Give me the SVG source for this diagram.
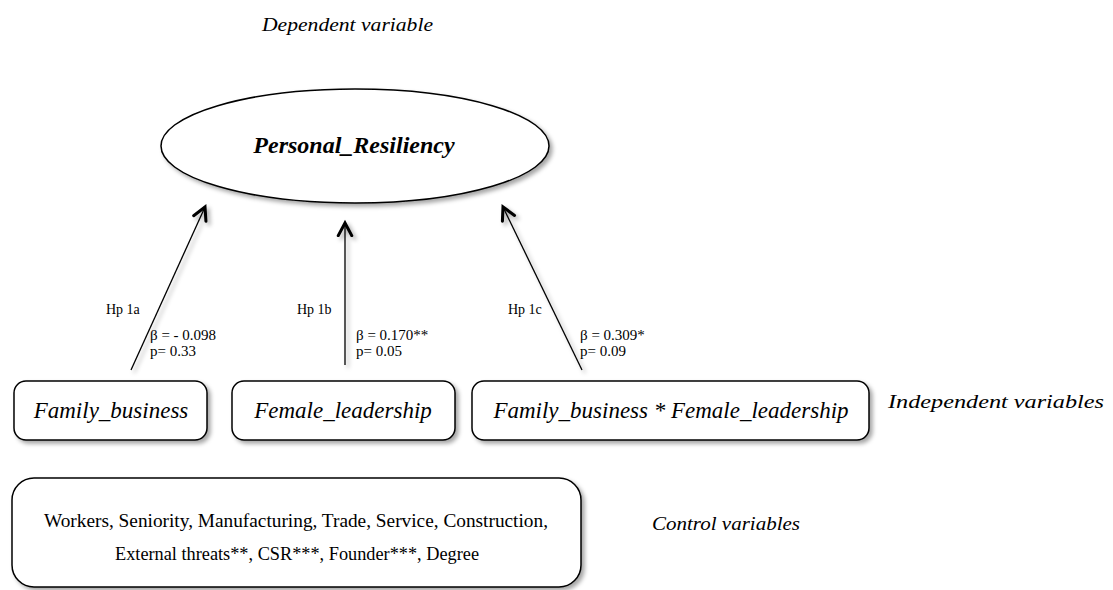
<svg xmlns="http://www.w3.org/2000/svg" width="1113" height="590" viewBox="0 0 1113 590">
<defs>
<filter id="sh" x="-10%" y="-10%" width="130%" height="140%">
<feDropShadow dx="3" dy="3" stdDeviation="2" flood-color="#000" flood-opacity="0.35"/>
</filter>
<marker id="chev" viewBox="0 0 20 20" refX="16" refY="10" markerWidth="18" markerHeight="18" markerUnits="userSpaceOnUse" orient="auto">
<path d="M2,2.5 L16,10 L2,17.5" fill="none" stroke="#000" stroke-width="3.4" stroke-linejoin="miter" stroke-linecap="round"/>
</marker>
</defs>
<style>
.node{fill:#fff;stroke:#000;stroke-width:1.5}
.it{font-family:"Liberation Serif","Times New Roman",serif;font-style:italic;fill:#000}
.rm{font-family:"Liberation Serif","Times New Roman",serif;fill:#000}
.edge{stroke:#000;stroke-width:1.3;fill:none}
</style>
<rect width="1113" height="590" fill="#fff"/>
<text class="it" x="262" y="31" font-size="18" textLength="171" lengthAdjust="spacingAndGlyphs">Dependent variable</text>
<g id="personal_resiliency">
<ellipse class="node" cx="355" cy="146" rx="194" ry="57" filter="url(#sh)"/>
<text class="it" x="354" y="153" font-size="24" font-weight="bold" text-anchor="middle">Personal_Resiliency</text>
</g>
<g id="family_business">
<rect class="node" x="14" y="381" width="193" height="59" rx="12" filter="url(#sh)"/>
<text class="it" x="111" y="418" font-size="23" text-anchor="middle">Family_business</text>
</g>
<g id="female_leadership">
<rect class="node" x="232" y="381" width="223" height="59" rx="12" filter="url(#sh)"/>
<text class="it" x="343" y="418" font-size="23" text-anchor="middle">Female_leadership</text>
</g>
<g id="interaction">
<rect class="node" x="472" y="381" width="397" height="59" rx="12" filter="url(#sh)"/>
<text class="it" x="671" y="418" font-size="23" text-anchor="middle">Family_business * Female_leadership</text>
</g>
<text class="it" x="888" y="408" font-size="19" textLength="216" lengthAdjust="spacingAndGlyphs">Independent variables</text>
<g id="controls">
<rect class="node" x="12" y="478" width="569" height="109" rx="22" filter="url(#sh)"/>
<text class="rm" x="44" y="527" font-size="18" textLength="504" lengthAdjust="spacingAndGlyphs">Workers, Seniority, Manufacturing, Trade, Service, Construction,</text>
<text class="rm" x="115" y="560" font-size="18" textLength="364" lengthAdjust="spacingAndGlyphs">External threats**, CSR***, Founder***, Degree</text>
</g>
<text class="it" x="652" y="530" font-size="19" textLength="148" lengthAdjust="spacingAndGlyphs">Control variables</text>
<g id="connectors" filter="url(#sh)">
<line class="edge" x1="131" y1="370" x2="205" y2="207" marker-end="url(#chev)"/>
<line class="edge" x1="345" y1="365" x2="345" y2="223" marker-end="url(#chev)"/>
<line class="edge" x1="582" y1="370" x2="503" y2="207" marker-end="url(#chev)"/>
</g>
<g id="labels">
<text class="rm" x="106" y="314" font-size="14">Hp 1a</text>
<text class="rm" x="150" y="340" font-size="15">β = - 0.098</text>
<text class="rm" x="150" y="356" font-size="15">p= 0.33</text>
<text class="rm" x="297" y="314" font-size="14">Hp 1b</text>
<text class="rm" x="356" y="340" font-size="15">β = 0.170**</text>
<text class="rm" x="356" y="356" font-size="15">p= 0.05</text>
<text class="rm" x="508" y="314" font-size="14">Hp 1c</text>
<text class="rm" x="580" y="340" font-size="15">β = 0.309*</text>
<text class="rm" x="580" y="356" font-size="15">p= 0.09</text>
</g>
</svg>
